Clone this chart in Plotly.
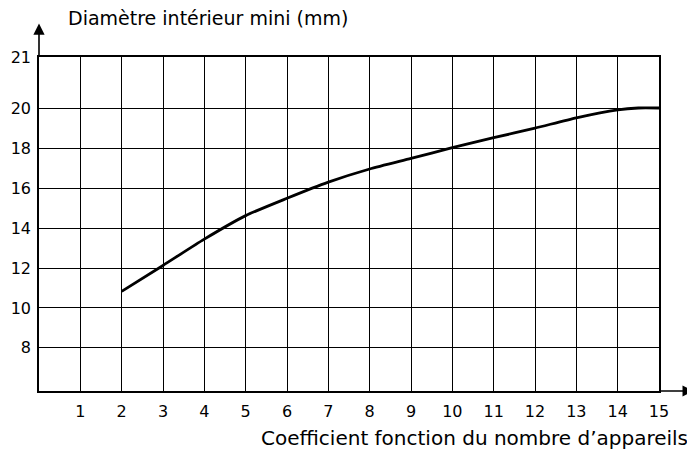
import plotly.graph_objects as go

# Data
coef = [2, 3, 4, 5, 6, 7, 8, 9, 10, 11, 12, 13, 14, 14.5, 15]
diam = [10.83, 12.13, 13.45, 14.63, 15.5, 16.31, 16.97, 17.5, 18.04, 18.54, 19.02, 19.54, 19.94, 20.03, 20.03]

x_ticks = list(range(1, 16))
x_tick_labels = [str(v) for v in x_ticks]
y_ticks = [8, 10, 12, 14, 16, 18, 20]
y_tick_labels = [str(v) for v in y_ticks]
y_top_label = "21"

x_title = "Coefficient fonction du nombre d\u2019appareils"
y_title = "Diamètre intérieur mini (mm)"

X_RANGE = [0, 15]
Y_RANGE = [5.83, 22.59]

FONT = "DejaVu Sans"

fig = go.Figure()
fig.add_trace(go.Scatter(
    x=coef, y=diam, mode="lines",
    line=dict(color="black", width=2.8, shape="spline", smoothing=0.6),
    hoverinfo="skip", showlegend=False,
))

# the page body keeps its default 8px margin, so the figure is 8px smaller
fig.update_layout(
    width=687, height=442,
    margin=dict(l=31, r=36, t=49, b=59, autoexpand=False),
    paper_bgcolor="white", plot_bgcolor="white",
    font=dict(family=FONT, color="black", size=16),
    showlegend=False,
)
fig.update_xaxes(
    range=X_RANGE, tickvals=x_ticks, ticktext=x_tick_labels,
    showgrid=True, gridcolor="black", gridwidth=1.3,
    showline=True, linecolor="black", linewidth=1.5, mirror=True,
    ticks="", ticklabelstandoff=5, zeroline=False, automargin=False,
    tickfont=dict(family=FONT, size=16, color="black"),
)
fig.update_yaxes(
    range=Y_RANGE, tickvals=y_ticks + [Y_RANGE[1]], ticktext=y_tick_labels + [y_top_label],
    showgrid=True, gridcolor="black", gridwidth=1.3,
    showline=True, linecolor="black", linewidth=1.5, mirror=True,
    ticks="", ticklabelstandoff=3, zeroline=False, automargin=False,
    tickfont=dict(family=FONT, size=16, color="black"),
)

# axis arrows
fig.add_annotation(xref="paper", yref="paper", x=1.056, y=0, ax=-36, ay=0,
                   text="", showarrow=True, arrowhead=2, arrowsize=1.4,
                   arrowwidth=1.6, arrowcolor="black")
fig.add_annotation(xref="paper", yref="paper", x=0, y=1.1, ax=0, ay=34,
                   text="", showarrow=True, arrowhead=2, arrowsize=1.4,
                   arrowwidth=1.6, arrowcolor="black")

# axis titles
fig.add_annotation(xref="paper", yref="paper", x=0.044, y=1.118,
                   xanchor="left", yanchor="middle", text=y_title, showarrow=False,
                   font=dict(family=FONT, size=19, color="black"))
fig.add_annotation(xref="paper", yref="paper", x=1.05, y=-0.141,
                   xanchor="right", yanchor="middle", text=x_title, showarrow=False,
                   font=dict(family=FONT, size=20, color="black"))

fig.write_html("out.html")
